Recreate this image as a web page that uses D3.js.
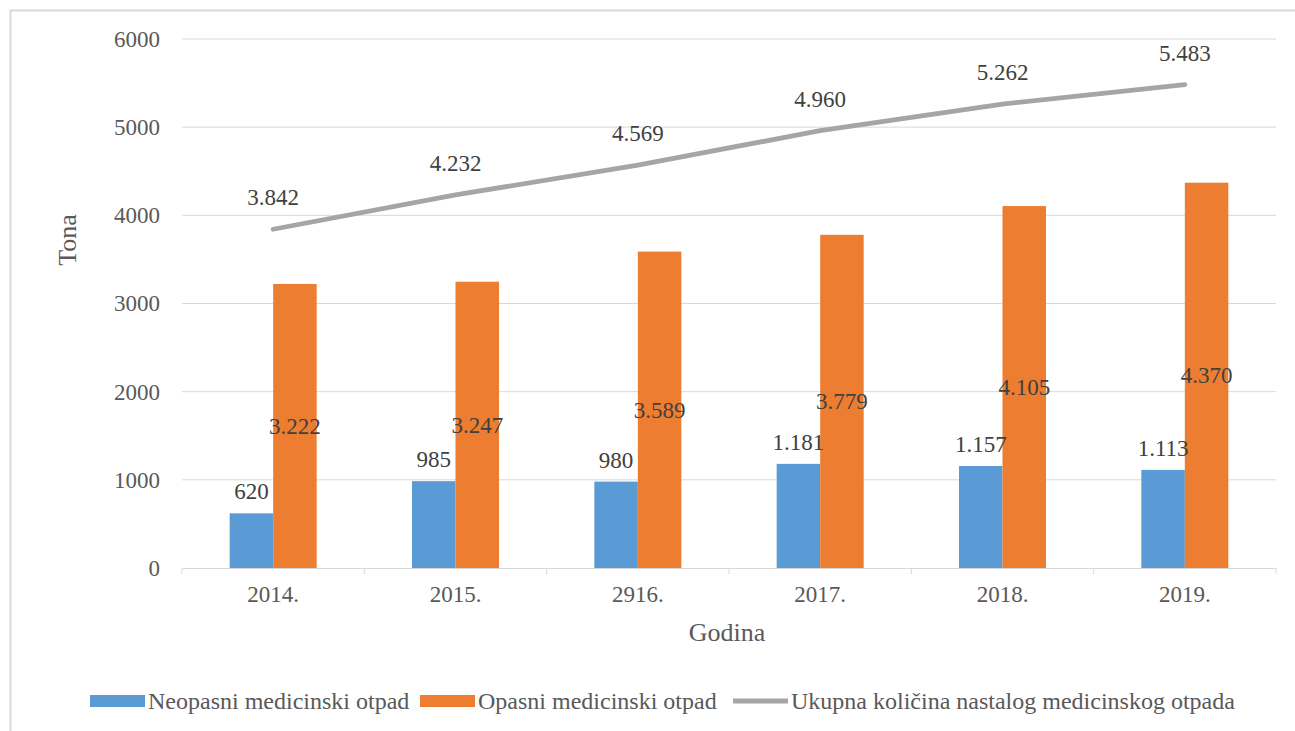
<!DOCTYPE html>
<html><head><meta charset="utf-8">
<script src="https://cdn.jsdelivr.net/npm/d3@7"></script>
<style>body{margin:0;background:#fff}svg{display:block}</style>
</head><body><svg id="c" width="1295" height="731"></svg>
<script>
const categories = ["2014.","2015.","2916.","2017.","2018.","2019."];
const neopasni = [620,985,980,1181,1157,1113];
const opasni = [3222,3247,3589,3779,4105,4370];
const ukupno = [3842,4232,4569,4960,5262,5483];
const yTicks = [0,1000,2000,3000,4000,5000,6000];
const seriesNames = ["Neopasni medicinski otpad","Opasni medicinski otpad","Ukupna količina nastalog medicinskog otpada"];
const colors = ["#5b9bd5","#ed7d31","#a5a5a5"];

const FF = '"Liberation Serif"';
const svg = d3.select("#c");
const fmt = v => d3.format(",")(v).replace(/,/g,".");
const M = {l:182, r:1276, t:39, b:568};
svg.append("rect").attr("x",10.5).attr("y",10.5).attr("width",1300).attr("height",760)
  .attr("fill","#fff").attr("stroke","#d9d9d9").attr("stroke-width",2);

const x = d3.scaleBand().domain(categories).range([M.l,M.r]);
const y = d3.scaleLinear().domain([0,6000]).range([M.b,M.t]);
const bw = 43.5;

// grid
svg.append("g").selectAll("line").data(yTicks.filter(d=>d>0)).join("line")
  .attr("x1",M.l).attr("x2",M.r).attr("y1",d=>y(d)).attr("y2",d=>y(d))
  .attr("stroke","#d9d9d9").attr("stroke-width",1);

// y axis labels
const ya = svg.append("g").attr("transform",`translate(${M.l},0)`)
  .call(d3.axisLeft(y).tickValues(yTicks).tickSize(0).tickPadding(22).tickFormat(d3.format("d")));
ya.select(".domain").remove();
ya.selectAll("text").style("font-family",FF).style("font-size","23px").attr("fill","#595959");

// x axis
const xa = svg.append("g").attr("transform",`translate(0,${M.b})`)
  .call(d3.axisBottom(x).tickSize(0).tickPadding(18));
xa.select(".domain").attr("stroke","#d9d9d9");
xa.selectAll("text").style("font-family",FF).style("font-size","23px").attr("fill","#595959");
const bounds = categories.map(c=>x(c)).concat([M.r]);
svg.append("g").selectAll("line").data(bounds).join("line")
  .attr("x1",d=>d).attr("x2",d=>d).attr("y1",M.b).attr("y2",M.b+6).attr("stroke","#d9d9d9");

// bars
const cx = c => x(c)+x.bandwidth()/2;
svg.append("g").selectAll("rect").data(categories).join("rect")
  .attr("x",c=>cx(c)-bw).attr("width",bw)
  .attr("y",(c,i)=>y(neopasni[i])).attr("height",(c,i)=>y(0)-y(neopasni[i]))
  .attr("fill",colors[0]);
svg.append("g").selectAll("rect").data(categories).join("rect")
  .attr("x",c=>cx(c)).attr("width",bw)
  .attr("y",(c,i)=>y(opasni[i])).attr("height",(c,i)=>y(0)-y(opasni[i]))
  .attr("fill",colors[1]);

// line
const line = d3.line().x((d,i)=>cx(categories[i])).y(d=>y(d));
svg.append("path").datum(ukupno).attr("d",line).attr("fill","none")
  .attr("stroke",colors[2]).attr("stroke-width",4.8).attr("stroke-linecap","round");

const lab = svg.append("g").attr("fill","#404040").attr("text-anchor","middle");
function st(s){ return s.style("font-family",FF).style("font-size","23px"); }
st(lab.selectAll(".b").data(categories).join("text")
  .attr("x",c=>cx(c)-bw/2).attr("y",(c,i)=>y(neopasni[i])-14).text((c,i)=>fmt(neopasni[i])));
st(lab.selectAll(".o").data(categories).join("text")
  .attr("x",c=>cx(c)+bw/2).attr("y",(c,i)=>(y(opasni[i])+y(0))/2+8).text((c,i)=>fmt(opasni[i])));
st(lab.selectAll(".u").data(categories).join("text")
  .attr("x",c=>cx(c)).attr("y",(c,i)=>y(ukupno[i])-24).text((c,i)=>fmt(ukupno[i])));

// axis titles
svg.append("text").attr("x",727).attr("y",641).attr("text-anchor","middle")
  .style("font-family",FF).style("font-size","26px").attr("fill","#595959").text("Godina");
svg.append("text").attr("transform","translate(76,240) rotate(-90)").attr("text-anchor","middle")
  .style("font-family",FF).style("font-size","26px").attr("fill","#595959").text("Tona");

// legend
const lg = svg.append("g").attr("fill","#595959");
const items = [{x:90,t:"rect"},{x:420,t:"rect"},{x:733,t:"line"}];
items.forEach((it,i)=>{
  if(it.t==="rect") lg.append("rect").attr("x",it.x).attr("y",695).attr("width",55).attr("height",12).attr("fill",colors[i]);
  else lg.append("line").attr("x1",it.x).attr("x2",it.x+55).attr("y1",701).attr("y2",701).attr("stroke",colors[i]).attr("stroke-width",4.8);
  lg.append("text").attr("x",it.x+58).attr("y",709).style("font-family",FF).style("font-size","24px").text(seriesNames[i]);
});
</script></body></html>
